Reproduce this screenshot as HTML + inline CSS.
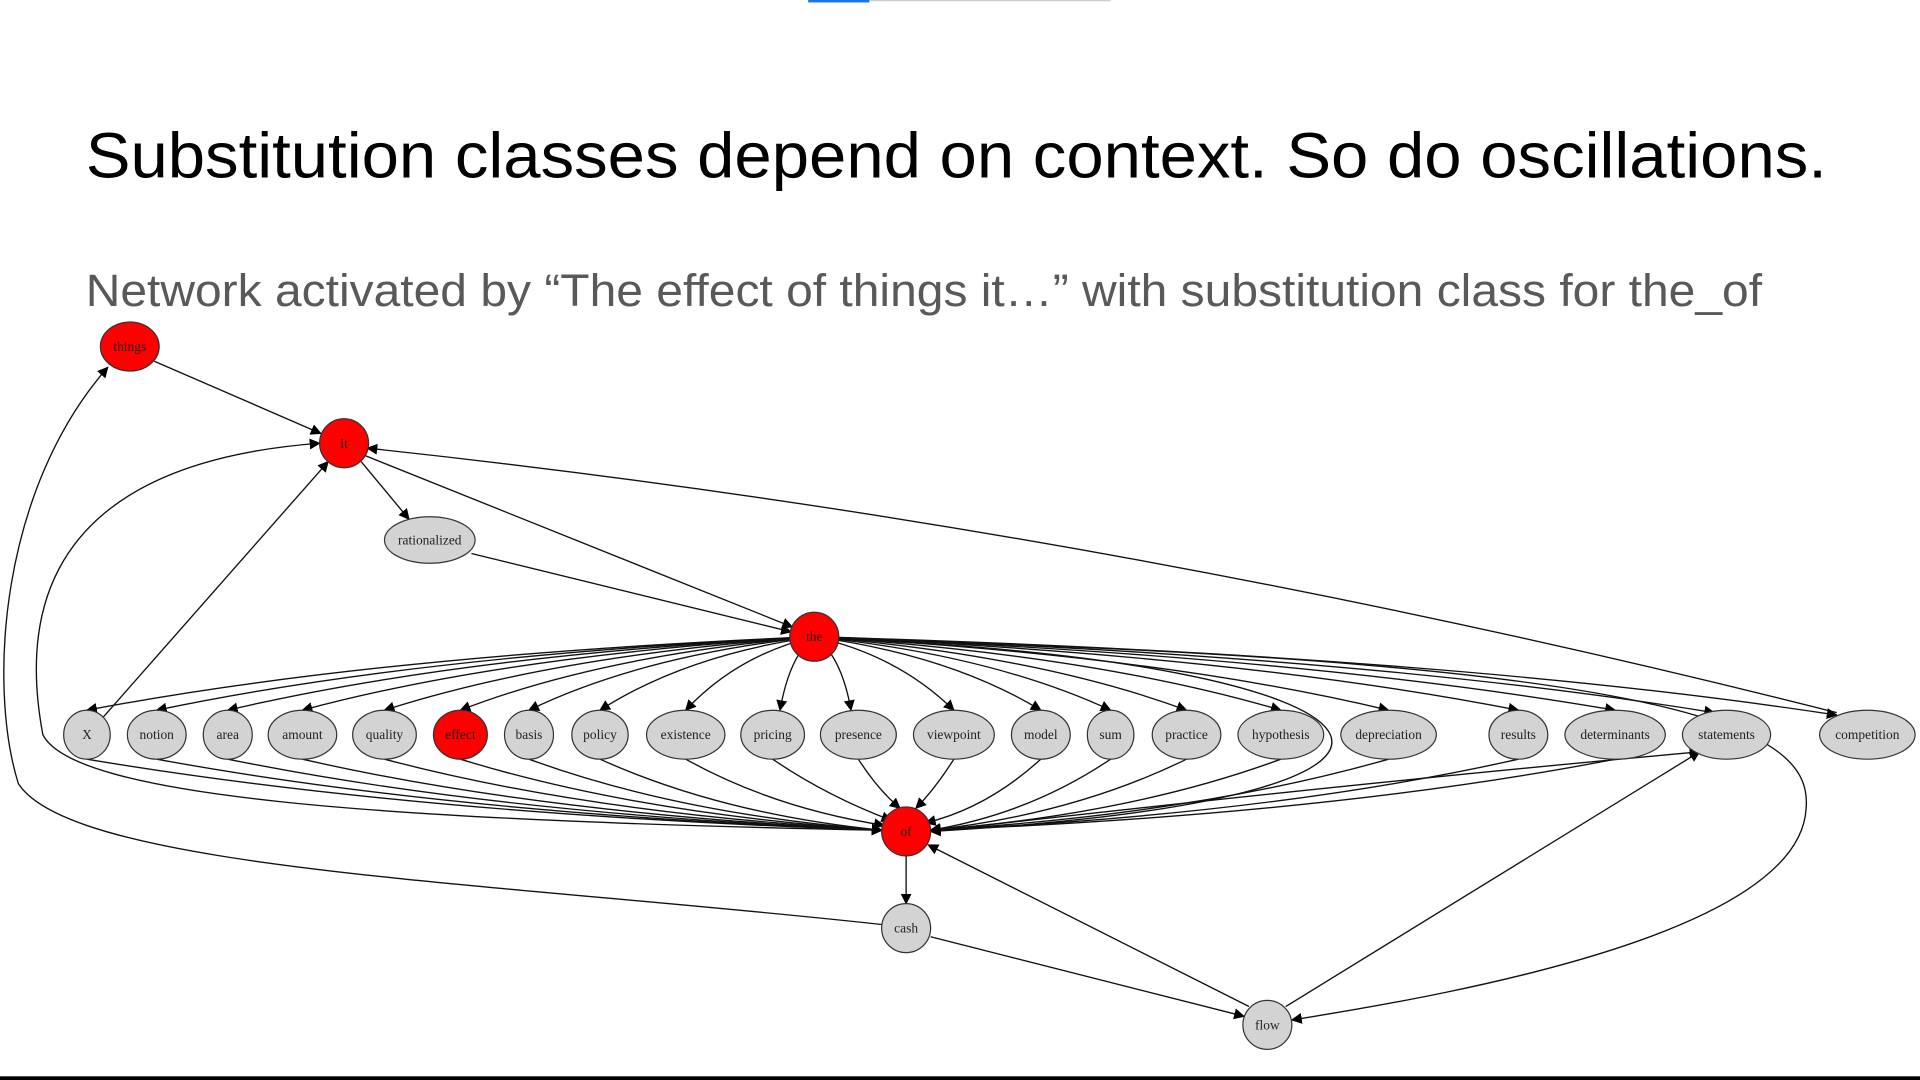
<!DOCTYPE html>
<html><head><meta charset="utf-8"><style>
html,body{margin:0;padding:0;background:#fff;width:1920px;height:1080px;overflow:hidden}
svg{display:block}
.e{fill:none;stroke:#111;stroke-width:1.1}
.n{fill:#d3d3d3;stroke:#333;stroke-width:1}
.r{fill:#f00;stroke:#333;stroke-width:1}
.t{font-family:"Liberation Serif",serif;font-size:11px;text-anchor:middle;dominant-baseline:central;fill:#222}
</style></head><body>
<svg width="1920" height="1080" viewBox="0 0 1568 882" xmlns="http://www.w3.org/2000/svg">
<defs><marker id="a" viewBox="0 0 10 10" refX="9" refY="5" markerWidth="9" markerHeight="9" markerUnits="userSpaceOnUse" orient="auto"><path d="M0,0L10,5L0,10z" fill="#000"/></marker></defs>
<rect x="660" y="0" width="50" height="2" fill="#1a73e8"/><rect x="710" y="0" width="197" height="1" fill="#ccc"/>
<rect x="0" y="879" width="1568" height="3" fill="#000"/>
<text x="70" y="145" font-family="Liberation Sans,sans-serif" font-size="52" fill="#000" textLength="1422" lengthAdjust="spacingAndGlyphs">Substitution classes depend on context. So do oscillations.</text>
<text x="70" y="250" font-family="Liberation Sans,sans-serif" font-size="37" fill="#595959" textLength="1369" lengthAdjust="spacingAndGlyphs">Network activated by “The effect of things it…” with substitution class for the_of</text>
<g class="e" marker-end="url(#a)">
<path d="M126,295L262,354"/><path d="M295,377L334,424"/><path d="M298,372L647,512"/><path d="M385,452L646,516"/><path d="M84,586L268,377"/>
<path d="M1500,582Q900,430 300,366"/>
<path d="M685,522C1150,540 1260,650 760,679"/>
<path d="M740,699L740,738"/><path d="M760,765L1016,830"/><path d="M1020,822L758,690"/><path d="M1050,822L1388,614"/><path d="M760,679Q1100,640 1388,614"/>
<path d="M685,522C1400,540 1480,600 1475,660C1470,760 1200,810 1055,833"/>
<path d="M720,755C400,720 60,710 15,640C-10,560 0,400 88,300"/>
<path d="M720,678C300,670 60,650 35,600C20,520 20,380 261,362"/>
<path d="M665,520Q308,535 71,580"/><path d="M665,520Q343,535 128,580"/><path d="M665,520Q378,535 186,580"/><path d="M665,520Q414,535 247,580"/><path d="M665,520Q454,535 314,580"/><path d="M665,520Q492,535 376,580"/><path d="M665,520Q525,535 432,580"/><path d="M665,520Q560,535 490,580"/><path d="M665,520Q602,535 560,580"/><path d="M665,520Q645,535 637,580"/><path d="M665,520Q687,535 695,580"/><path d="M665,520Q733,535 779,580"/><path d="M665,520Q776,535 850,580"/><path d="M665,520Q810,535 907,580"/><path d="M665,520Q847,535 969,580"/><path d="M665,520Q894,535 1046,580"/><path d="M665,520Q946,535 1134,580"/><path d="M665,520Q1010,535 1240,580"/><path d="M665,520Q1057,535 1319,580"/><path d="M665,520Q1112,535 1400,582"/><path d="M665,520Q1181,535 1500,584"/>
<path d="M71,620Q339,665 720,678"/><path d="M128,620Q373,665 720,678"/><path d="M186,620Q408,665 720,678"/><path d="M247,620Q444,665 720,678"/><path d="M314,620Q484,665 720,678"/><path d="M376,620Q522,665 720,678"/><path d="M432,620Q555,665 720,678"/><path d="M490,620Q590,665 720,678"/><path d="M560,620Q632,660 722,674"/><path d="M631,620Q675,650 728,670"/><path d="M701,620Q717,645 735,660"/><path d="M779,620Q763,645 748,660"/><path d="M850,620Q806,660 756,672"/><path d="M907,620Q840,665 760,678"/><path d="M969,620Q877,665 760,678"/><path d="M1046,620Q924,665 760,678"/><path d="M1134,620Q976,665 760,678"/><path d="M1240,620Q1040,665 760,678"/><path d="M1319,620Q1087,665 760,678"/>
</g>
<g>
<ellipse class="r" cx="106" cy="283" rx="24" ry="20"/><text class="t" x="106" y="283">things</text>
<ellipse class="r" cx="281" cy="362" rx="20" ry="20"/><text class="t" x="281" y="362">it</text>
<ellipse class="n" cx="351" cy="441" rx="37" ry="19"/><text class="t" x="351" y="441">rationalized</text>
<ellipse class="r" cx="665" cy="520" rx="20" ry="20"/><text class="t" x="665" y="520">the</text>
<ellipse class="n" cx="71" cy="600" rx="19" ry="20"/><text class="t" x="71" y="600">X</text>
<ellipse class="n" cx="128" cy="600" rx="24" ry="20"/><text class="t" x="128" y="600">notion</text>
<ellipse class="n" cx="186" cy="600" rx="20" ry="20"/><text class="t" x="186" y="600">area</text>
<ellipse class="n" cx="247" cy="600" rx="28" ry="20"/><text class="t" x="247" y="600">amount</text>
<ellipse class="n" cx="314" cy="600" rx="26" ry="20"/><text class="t" x="314" y="600">quality</text>
<ellipse class="r" cx="376" cy="600" rx="22" ry="20"/><text class="t" x="376" y="600">effect</text>
<ellipse class="n" cx="432" cy="600" rx="20" ry="20"/><text class="t" x="432" y="600">basis</text>
<ellipse class="n" cx="490" cy="600" rx="23" ry="20"/><text class="t" x="490" y="600">policy</text>
<ellipse class="n" cx="560" cy="600" rx="32" ry="20"/><text class="t" x="560" y="600">existence</text>
<ellipse class="n" cx="631" cy="600" rx="26" ry="20"/><text class="t" x="631" y="600">pricing</text>
<ellipse class="n" cx="701" cy="600" rx="31" ry="20"/><text class="t" x="701" y="600">presence</text>
<ellipse class="n" cx="779" cy="600" rx="33" ry="20"/><text class="t" x="779" y="600">viewpoint</text>
<ellipse class="n" cx="850" cy="600" rx="24" ry="20"/><text class="t" x="850" y="600">model</text>
<ellipse class="n" cx="907" cy="600" rx="19" ry="20"/><text class="t" x="907" y="600">sum</text>
<ellipse class="n" cx="969" cy="600" rx="28" ry="20"/><text class="t" x="969" y="600">practice</text>
<ellipse class="n" cx="1046" cy="600" rx="35" ry="20"/><text class="t" x="1046" y="600">hypothesis</text>
<ellipse class="n" cx="1134" cy="600" rx="39" ry="20"/><text class="t" x="1134" y="600">depreciation</text>
<ellipse class="n" cx="1240" cy="600" rx="24" ry="20"/><text class="t" x="1240" y="600">results</text>
<ellipse class="n" cx="1319" cy="600" rx="41" ry="20"/><text class="t" x="1319" y="600">determinants</text>
<ellipse class="n" cx="1410" cy="600" rx="36" ry="20"/><text class="t" x="1410" y="600">statements</text>
<ellipse class="n" cx="1525" cy="600" rx="39" ry="20"/><text class="t" x="1525" y="600">competition</text>
<ellipse class="r" cx="740" cy="679" rx="20" ry="20"/><text class="t" x="740" y="679">of</text>
<ellipse class="n" cx="740" cy="758" rx="20" ry="20"/><text class="t" x="740" y="758">cash</text>
<ellipse class="n" cx="1035" cy="837" rx="20" ry="20"/><text class="t" x="1035" y="837">flow</text>
</g>
</svg>
</body></html>
